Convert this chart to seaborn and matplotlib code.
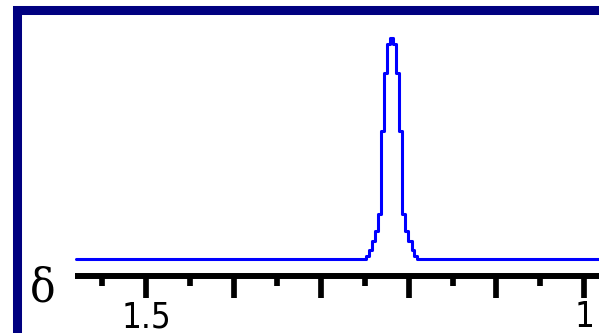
import matplotlib
matplotlib.use("Agg")
import matplotlib.pyplot as plt
import seaborn as sns
from matplotlib.patches import Rectangle

# ---- data ----
ppm = [1.5800, 1.2500, 1.2466, 1.2432, 1.2398, 1.2363, 1.2329, 1.2295, 1.2261, 1.2226,
       1.2192, 1.2158, 1.2124, 1.2089, 1.2055, 1.2021, 1.1986, 1.1952, 1.1918, 1.1884, 0.9700]
intensity = [0, 0, 1.8, 4.3, 8.4, 12.9, 20.6, 58.1, 84.4, 97.7,
             100, 97.7, 84.4, 58.1, 20.6, 12.9, 8.4, 4.3, 1.8, 0, 0]
major_ticks = [1.5, 1.4, 1.3, 1.2, 1.1, 1.0]
major_labels = ["1.5", "", "", "", "", "1"]
minor_ticks = [1.55, 1.45, 1.35, 1.25, 1.15, 1.05]
axis_symbol = "δ"

sns.set_style("white")
plt.rcParams['font.family'] = ['DejaVu Sans']

fig = plt.figure(figsize=(5.99, 3.33), dpi=100)
ax = fig.add_axes([0, 0, 1, 1])

sns.lineplot(x=ppm, y=intensity, ax=ax, color="#0000ff", linewidth=2.2,
             drawstyle="steps-mid", estimator=None)

ax.set_xlim(1.66667, 0.98288)
ax.set_ylim(-33.26, 117.42)

for s in ["left", "top", "right"]:
    ax.spines[s].set_visible(False)
ax.spines["bottom"].set_position(("data", -7.47))
ax.spines["bottom"].set_bounds(1.5805, 0.97)
ax.spines["bottom"].set_linewidth(4.3)
ax.spines["bottom"].set_color("black")
ax.spines["bottom"].set_capstyle("butt")

ax.set_yticks([])
ax.set_xticks(major_ticks)
ax.set_xticklabels(major_labels)
ax.set_xticks(minor_ticks, minor=True)
ax.tick_params(axis="x", which="both", bottom=True, top=False)
ax.tick_params(axis="x", which="major", direction="out", length=15.8, width=4.1,
               color="black", pad=1.5, labelsize=25, labelcolor="black")
ax.tick_params(axis="x", which="minor", direction="out", length=7.2, width=4.1,
               color="black")
for lbl in ax.get_xticklabels():
    lbl.set_fontstretch("condensed")
ax.set_facecolor("white")

fig.text(43 / 599, 1 - 289 / 333, axis_symbol, ha="center", va="center",
         fontsize=34, color="black", family=["DejaVu Serif"], fontstretch="condensed")

# navy frame (right and bottom parts extend beyond the crop)
frame = Rectangle((17 / 599, (333 - 334.5) / 333), 1.2, (334.5 - 9.5) / 333,
                  transform=fig.transFigure, fill=False, edgecolor="#000080",
                  linewidth=6.5, clip_on=False)
fig.patches.append(frame)

fig.savefig("out.png", dpi=100, facecolor="white")
